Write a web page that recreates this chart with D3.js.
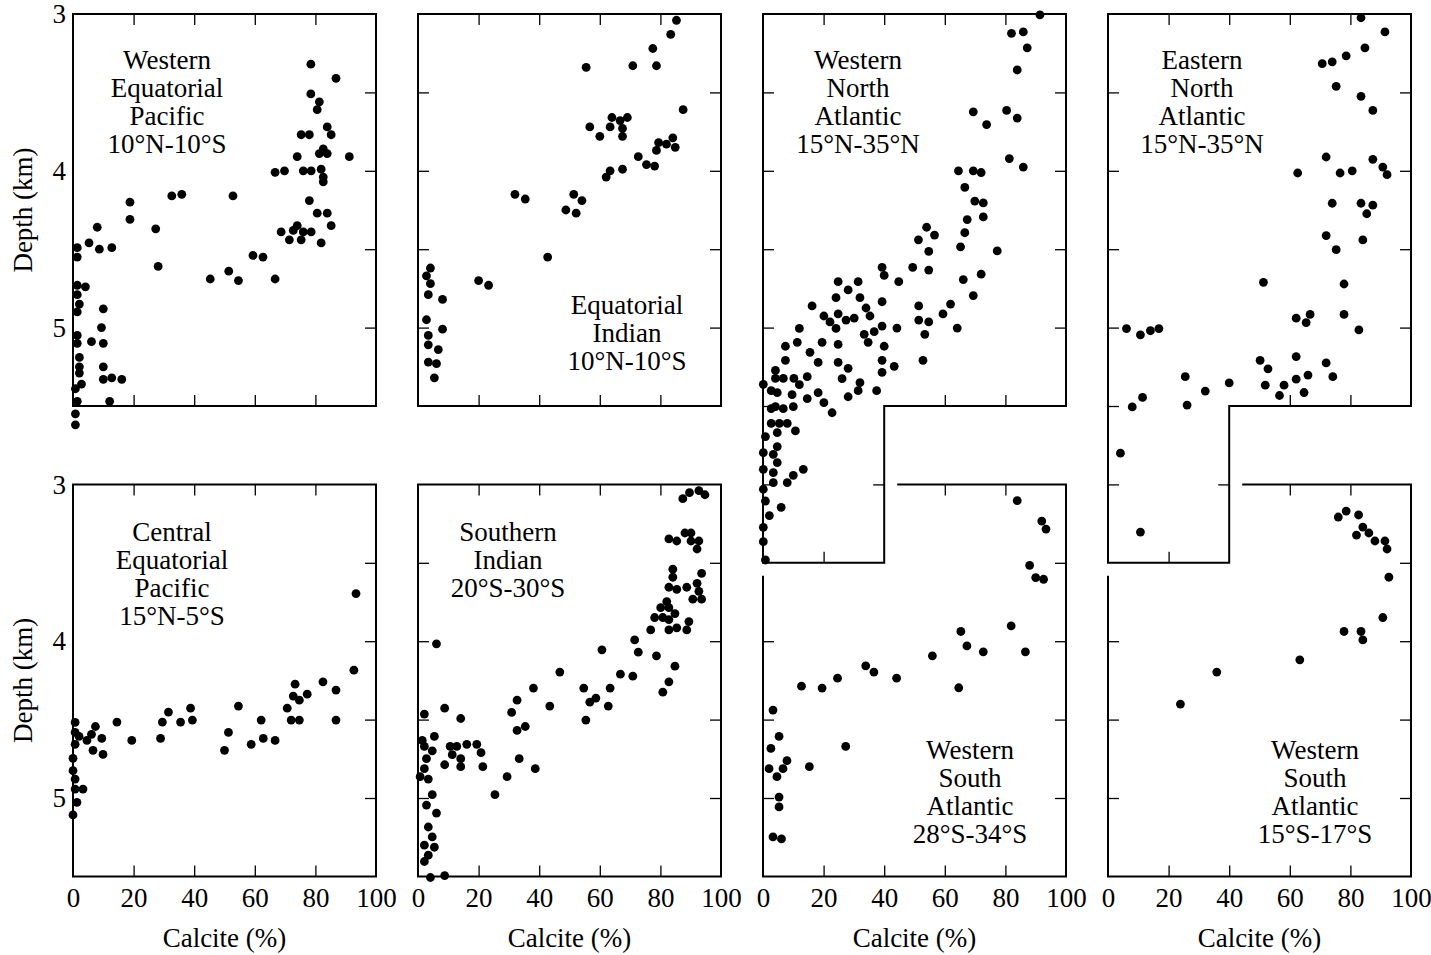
<!DOCTYPE html>
<html>
<head>
<meta charset="utf-8">
<script src="https://cdn.jsdelivr.net/npm/d3@7"></script>
<style>
  html, body { margin: 0; padding: 0; background: #fff; }
  svg { display: block; }
  text { font-family: "Liberation Serif", "Times New Roman", serif; fill: #000; }
</style>
</head>
<body>
<svg id="chart" width="1431" height="955"></svg>
<script>
// ---------------- DATA ----------------
const xTickValues = [0, 20, 40, 60, 80, 100];
const yTickLabels = [3, 4, 5];
const xAxisTitle = "Calcite (%)";
const yAxisTitle = "Depth (km)";

const titleWEP = ["Western", "Equatorial", "Pacific", "10°N-10°S"];
const titleEI  = ["Equatorial", "Indian", "10°N-10°S"];
const titleWNA = ["Western", "North", "Atlantic", "15°N-35°N"];
const titleENA = ["Eastern", "North", "Atlantic", "15°N-35°N"];
const titleCEP = ["Central", "Equatorial", "Pacific", "15°N-5°S"];
const titleSI  = ["Southern", "Indian", "20°S-30°S"];
const titleWSA1 = ["Western", "South", "Atlantic", "28°S-34°S"];
const titleWSA2 = ["Western", "South", "Atlantic", "15°S-17°S"];

// [calcite %, depth km]
const dataWEP = [
 [78.5,3.32],[86.8,3.41],[78.5,3.51],[81.3,3.56],[80.6,3.61],[83.9,3.72],[85.2,3.77],[75.3,3.77],[78.0,3.77],
 [74.0,3.91],[82.6,3.86],[81.3,3.89],[83.9,3.89],[91.2,3.91],[66.7,4.01],[69.8,4.00],[76.0,4.00],[78.6,4.00],
 [81.9,3.99],[82.6,4.04],[82.6,4.07],[78.0,4.19],[80.6,4.27],[83.9,4.27],[85.2,4.35],[74.0,4.35],[72.7,4.38],
 [68.7,4.39],[76.0,4.39],[78.6,4.39],[71.4,4.44],[75.3,4.44],[81.9,4.46],[32.6,4.16],[35.9,4.15],[52.8,4.16],
 [18.8,4.20],[18.8,4.31],[27.3,4.37],[8.0,4.36],[5.3,4.46],[8.7,4.50],[12.8,4.49],[1.4,4.49],[1.4,4.55],
 [28.1,4.61],[45.3,4.69],[51.4,4.64],[54.6,4.70],[59.4,4.54],[62.7,4.55],[66.7,4.69],[1.4,4.73],[4.1,4.74],
 [1.4,4.79],[2.1,4.85],[1.4,4.90],[10.0,4.88],[9.4,5.00],[1.4,5.05],[1.4,5.10],[6.1,5.09],[10.0,5.10],
 [2.1,5.19],[2.1,5.25],[2.1,5.29],[2.8,5.36],[10.0,5.25],[10.0,5.33],[12.8,5.32],[16.1,5.33],[0.8,5.39],
 [1.4,5.47],[12.1,5.47],[0.8,5.55],[0.8,5.62]
];
const dataEI = [
 [85.3,3.04],[83.4,3.13],[77.5,3.22],[78.7,3.33],[70.9,3.33],[55.5,3.34],[87.5,3.61],[64.0,3.66],[66.7,3.68],
 [69.1,3.66],[56.7,3.72],[63.4,3.72],[67.5,3.73],[67.5,3.78],[60.0,3.78],[79.4,3.82],[82.0,3.83],[84.1,3.79],
 [84.9,3.85],[78.7,3.87],[72.7,3.91],[75.4,3.96],[78.1,3.97],[67.5,3.99],[63.4,4.00],[62.1,4.04],[32.0,4.15],
 [35.4,4.18],[51.4,4.15],[54.1,4.19],[48.8,4.25],[52.2,4.27],[42.8,4.55],[4.1,4.62],[2.8,4.67],[4.1,4.72],
 [20.0,4.70],[23.3,4.73],[3.4,4.79],[8.1,4.82],[2.8,4.95],[8.1,5.01],[3.4,5.05],[3.4,5.11],[6.7,5.14],
 [3.4,5.22],[6.1,5.23],[5.4,5.32]
];
const dataWNA = [
 [91.4,3.005],[82.0,3.123],[85.9,3.114],[87.2,3.216],[83.9,3.357],[69.4,3.624],[80.4,3.615],[83.9,3.664],
 [73.8,3.705],[81.3,3.922],[85.9,3.976],[64.5,4.000],[69.4,4.000],[72.0,4.011],[66.6,4.106],[69.9,4.193],
 [72.7,4.205],[67.4,4.311],[72.7,4.294],[66.6,4.395],[65.2,4.485],[77.3,4.511],[54.0,4.36],[51.3,4.44],
 [56.6,4.41],[72.0,4.659],[66.1,4.694],[69.4,4.796],[61.9,4.850],[64.1,5.003],
 [54.7,4.514],[54.7,4.633],[49.4,4.616],[39.3,4.616],[40.0,4.667],[44.8,4.707],[24.8,4.707],[31.4,4.707],
 [28.1,4.760],[24.1,4.809],[32.0,4.809],[39.3,4.835],[16.2,4.862],[34.0,4.875],[20.1,4.926],[22.1,4.964],
 [24.8,4.913],[27.4,4.952],[30.1,4.939],[35.3,4.926],[24.1,5.005],[51.4,4.862],[51.4,4.952],[54.7,4.964],
 [59.4,4.913],[39.3,4.990],[44.2,5.003],[12.0,5.005],[33.4,5.043],[36.7,5.026],[34.7,5.094],[53.4,5.043],
 [7.4,5.119],[11.3,5.094],[19.5,5.094],[24.8,5.107],[40.0,5.119],[15.5,5.158],[7.4,5.209],[18.2,5.222],
 [24.8,5.222],[39.3,5.209],[28.1,5.260],[43.3,5.247],[52.8,5.209],[39.3,5.285],[4.1,5.273],[4.1,5.324],
 [6.7,5.324],[10.2,5.324],[14.6,5.313],[12.0,5.364],[26.1,5.326],[32.0,5.351],[0.1,5.362],[2.7,5.402],
 [4.7,5.415],[9.6,5.428],[18.2,5.415],[31.4,5.402],[37.5,5.402],[14.6,5.453],[28.1,5.441],[20.1,5.479],
 [2.7,5.517],[4.1,5.504],[6.7,5.517],[10.0,5.504],[22.8,5.543],
 [2.7,5.611],[5.4,5.611],[8.0,5.611],[4.7,5.670],[10.7,5.659],[0.8,5.695],[4.7,5.759],[0.1,5.798],
 [3.4,5.808],[4.7,5.861],[0.1,5.904],[3.4,5.925],[13.3,5.904],[10.0,5.942],[3.4,5.989],[8.0,5.989],
 [0.1,6.031],[0.8,6.106],[6.0,6.146],[2.1,6.199],[0.1,6.274],[0.1,6.365],[0.8,6.482]
];
const dataENA = [
 [83.5,3.024],[91.4,3.114],[84.8,3.216],[78.6,3.267],[74.0,3.305],[70.7,3.317],[75.3,3.461],[83.5,3.525],
 [87.4,3.615],[72.0,3.912],[87.4,3.927],[90.7,3.976],[92.1,4.025],[62.6,4.014],[76.6,4.014],[80.6,4.000],
 [74.0,4.207],[83.5,4.207],[87.4,4.219],[85.4,4.274],[72.0,4.413],[84.1,4.441],[75.3,4.503],[51.3,4.711],
 [77.9,4.722],[62.1,4.940],[65.4,4.968],[66.7,4.916],[77.9,4.916],[82.8,5.015],[6.1,5.006],[10.7,5.046],
 [14.0,5.020],[16.8,5.006],[50.2,5.209],[52.8,5.263],[62.1,5.185],[72.0,5.225],[25.5,5.313],[51.9,5.367],
 [58.1,5.367],[62.1,5.329],[66.0,5.303],[74.2,5.313],[56.6,5.433],[64.7,5.414],[40.0,5.353],[32.1,5.405],
 [26.1,5.494],[11.4,5.445],[8.0,5.506],[4.1,5.801],[10.7,6.304]
];
const dataCEP = [
 [93.4,3.696],[92.7,4.185],[82.5,4.259],[86.8,4.312],[73.3,4.274],[72.7,4.350],[74.7,4.376],[77.3,4.338],
 [70.7,4.427],[72.0,4.503],[74.7,4.503],[86.8,4.503],[54.6,4.414],[62.1,4.503],[62.8,4.620],[58.8,4.658],
 [66.7,4.633],[50.0,4.696],[51.3,4.582],[38.8,4.427],[39.4,4.503],[35.5,4.516],[31.5,4.452],[29.5,4.516],
 [28.9,4.620],[19.4,4.633],[14.5,4.516],[9.9,4.722],[9.5,4.620],[7.4,4.544],[6.6,4.696],[6.1,4.594],
 [4.6,4.633],[2.0,4.607],[0.7,4.582],[0.7,4.518],[0.7,4.658],[0.0,4.747],[0.0,4.826],[0.7,4.879],
 [0.7,4.943],[3.3,4.943],[1.3,5.028],[0.0,5.108]
];
const dataSI = [
 [87.4,3.091],[89.6,3.053],[92.7,3.040],[94.7,3.066],[82.8,3.348],[85.4,3.361],[88.1,3.310],[90.1,3.310],
 [90.1,3.361],[92.7,3.361],[92.1,3.412],[84.1,3.541],[84.1,3.592],[82.8,3.656],[85.4,3.669],[88.7,3.656],
 [93.6,3.567],[92.1,3.631],[92.7,3.682],[90.7,3.732],[93.6,3.732],[82.1,3.747],[80.1,3.786],[82.8,3.786],
 [78.1,3.849],[80.8,3.849],[82.8,3.862],[84.8,3.824],[82.8,3.928],[85.4,3.915],[88.7,3.928],[89.4,3.875],
 [76.8,3.928],[71.5,3.992],[72.7,4.070],[78.7,4.093],[84.8,4.159],[82.8,4.259],[80.8,4.325],[60.7,4.055],
 [66.8,4.210],[70.9,4.223],[63.4,4.299],[62.8,4.414],[58.7,4.363],[56.7,4.389],[54.7,4.299],[55.4,4.503],
 [46.8,4.197],[43.5,4.414],[38.1,4.299],[32.7,4.376],[30.9,4.454],[32.7,4.569],[35.4,4.544],[33.4,4.749],
 [38.7,4.813],[29.4,4.864],[25.4,4.979],[21.4,4.800],[20.8,4.711],[19.4,4.658],[16.1,4.658],[14.1,4.493],
 [14.1,4.749],[14.1,4.800],[12.8,4.671],[10.6,4.671],[11.3,4.724],[8.8,4.427],[8.8,4.788],[6.1,4.017],
 [5.4,4.607],[4.7,4.699],[2.1,4.465],[1.4,4.633],[2.1,4.671],[2.8,4.749],[2.1,4.813],[0.7,4.864],
 [3.4,4.879],[4.7,4.979],[2.8,5.045],[6.1,5.096],[3.4,5.185],[4.7,5.248],[5.4,5.314],[2.1,5.301],
 [3.4,5.365],[2.1,5.405],[4.1,5.507],[8.8,5.495]
];
const dataWSA1 = [
 [83.9,3.104],[92.0,3.234],[93.4,3.285],[88.0,3.516],[90.0,3.594],[92.6,3.605],[81.9,3.902],[65.3,3.938],
 [67.3,4.030],[72.7,4.068],[86.6,4.068],[55.9,4.093],[33.9,4.157],[36.6,4.197],[24.6,4.236],[44.1,4.236],
 [12.7,4.287],[19.5,4.299],[64.6,4.297],[3.3,4.439],[5.3,4.607],[2.6,4.684],[27.3,4.671],[7.9,4.762],
 [6.6,4.813],[2.0,4.813],[4.6,4.864],[15.3,4.800],[5.3,4.994],[5.3,5.057],[3.3,5.248],[6.1,5.261]
];
const dataWSA2 = [
 [76.0,3.208],[78.6,3.170],[82.7,3.195],[84.1,3.272],[86.1,3.310],[82.0,3.323],[88.1,3.361],[91.4,3.361],
 [92.1,3.412],[92.7,3.592],[90.7,3.849],[77.9,3.938],[83.5,3.938],[84.1,3.992],[63.3,4.119],[35.9,4.197],
 [23.9,4.401]
];

// ---------------- LAYOUT ----------------
const colLeft = [73, 418, 763, 1108];
const panelW = 303;
const pxPerKm = 156.8;
const rowTop = [14, 14 + 3 * pxPerKm];
const gap = 13;
const tickLen = 11;
const dotR = 4.4;
const fontSize = 27;
const lineH = 28;

const innerTicksX = [20, 40, 60, 80];
const innerTicksY = [3.5, 4, 4.5, 5];

const panels = [
  {col:0,row:0,shape:"rect",data:dataWEP,title:titleWEP,tdx:94,tdy:46},
  {col:1,row:0,shape:"rect",data:dataEI,title:titleEI,tdx:209,tdy:291},
  {col:2,row:0,shape:"ext",data:dataWNA,title:titleWNA,tdx:95,tdy:46},
  {col:3,row:0,shape:"ext",data:dataENA,title:titleENA,tdx:94,tdy:46},
  {col:0,row:1,shape:"rect",data:dataCEP,title:titleCEP,tdx:99,tdy:47},
  {col:1,row:1,shape:"rect",data:dataSI,title:titleSI,tdx:90,tdy:47},
  {col:2,row:1,shape:"notch",data:dataWSA1,title:titleWSA1,tdx:207,tdy:265},
  {col:3,row:1,shape:"notch",data:dataWSA2,title:titleWSA2,tdx:207,tdy:265}
];

const svg = d3.select("#chart");

panels.forEach(p => {
  const left = colLeft[p.col], top = rowTop[p.row];
  const yMax = p.shape === "ext" ? 6.5 : 5.5;
  const x = d3.scaleLinear().domain([0, 100]).range([left, left + panelW]);
  const y = d3.scaleLinear().domain([3, yMax]).range([top, top + (yMax - 3) * pxPerKm]);
  const g = svg.append("g");

  // frame
  const path = d3.path();
  if (p.shape === "rect") {
    path.moveTo(x(0), y(3)); path.lineTo(x(100), y(3)); path.lineTo(x(100), y(5.5));
    path.lineTo(x(0), y(5.5)); path.closePath();
  } else if (p.shape === "ext") {
    path.moveTo(x(0), y(3)); path.lineTo(x(100), y(3)); path.lineTo(x(100), y(5.5));
    path.lineTo(x(40), y(5.5)); path.lineTo(x(40), y(6.5)); path.lineTo(x(0), y(6.5)); path.closePath();
  } else {
    path.moveTo(x(0), y(3.5) + gap); path.lineTo(x(0), y(5.5)); path.lineTo(x(100), y(5.5));
    path.lineTo(x(100), y(3)); path.lineTo(x(40) + gap, y(3));
  }
  g.append("path").attr("d", path.toString()).attr("fill", "none")
    .attr("stroke", "#000").attr("stroke-width", 2).attr("stroke-linejoin", "miter");

  // ticks
  function tickAxis(axisFn, scale, values, tx, ty) {
    const a = axisFn(scale).tickValues(values).tickSize(-tickLen).tickFormat("");
    const ag = g.append("g").attr("transform", `translate(${tx},${ty})`).call(a);
    ag.select(".domain").remove();
    ag.selectAll(".tick line").attr("stroke", "#000").attr("stroke-width", 1.3);
  }
  if (p.shape === "rect") {
    tickAxis(d3.axisTop, x, innerTicksX, 0, y(3));
    tickAxis(d3.axisBottom, x, innerTicksX, 0, y(5.5));
    tickAxis(d3.axisRight, y, innerTicksY, x(100), 0);
    if (p.col > 0) tickAxis(d3.axisLeft, y, innerTicksY, x(0), 0);
  } else if (p.shape === "ext") {
    tickAxis(d3.axisTop, x, innerTicksX, 0, y(3));
    tickAxis(d3.axisBottom, x, [60, 80], 0, y(5.5));
    tickAxis(d3.axisBottom, x, [20], 0, y(6.5));
    tickAxis(d3.axisRight, y, innerTicksY, x(100), 0);
    tickAxis(d3.axisRight, y, [6], x(40), 0);
    tickAxis(d3.axisLeft, y, [3.5, 4, 4.5, 5, 5.5, 6], x(0), 0);
  } else {
    tickAxis(d3.axisTop, x, [60, 80], 0, y(3));
    tickAxis(d3.axisBottom, x, innerTicksX, 0, y(5.5));
    tickAxis(d3.axisRight, y, innerTicksY, x(100), 0);
    tickAxis(d3.axisLeft, y, [4, 4.5, 5], x(0), 0);
  }

  // points
  g.append("g").selectAll("circle").data(p.data).join("circle")
    .attr("cx", d => x(d[0])).attr("cy", d => y(d[1])).attr("r", dotR).attr("fill", "#000");

  // title
  const t = g.append("text").attr("text-anchor", "middle").attr("font-size", fontSize);
  p.title.forEach((s, i) => {
    t.append("tspan").attr("x", left + p.tdx).attr("y", top + p.tdy + i * lineH).attr("dy", "0.35em").text(s);
  });

  // y tick labels (column 1)
  if (p.col === 0) {
    const ya = d3.axisLeft(y).tickValues(yTickLabels).tickSize(0).tickPadding(7).tickFormat(d3.format("d"));
    const yg = g.append("g").attr("transform", `translate(${x(0)},0)`).call(ya);
    yg.select(".domain").remove();
    yg.selectAll("text").attr("font-size", fontSize).attr("font-family", "Liberation Serif");
    g.append("text").attr("transform", `translate(23,${(y(3) + y(5.5)) / 2}) rotate(-90)`)
      .attr("text-anchor", "middle").attr("dy", "0.35em").attr("font-size", fontSize).text(yAxisTitle);
  }
  // x tick labels (row 2)
  if (p.row === 1) {
    const xa = d3.axisBottom(x).tickValues(xTickValues).tickSize(0).tickPadding(11).tickFormat(d3.format("d"));
    const xg = g.append("g").attr("transform", `translate(0,${y(5.5)})`).call(xa);
    xg.select(".domain").remove();
    xg.selectAll("text").attr("font-size", fontSize).attr("font-family", "Liberation Serif");
    g.append("text").attr("x", x(50)).attr("y", y(5.5) + 71).attr("text-anchor", "middle")
      .attr("font-size", fontSize).text(xAxisTitle);
  }
});
</script>
</body>
</html>
